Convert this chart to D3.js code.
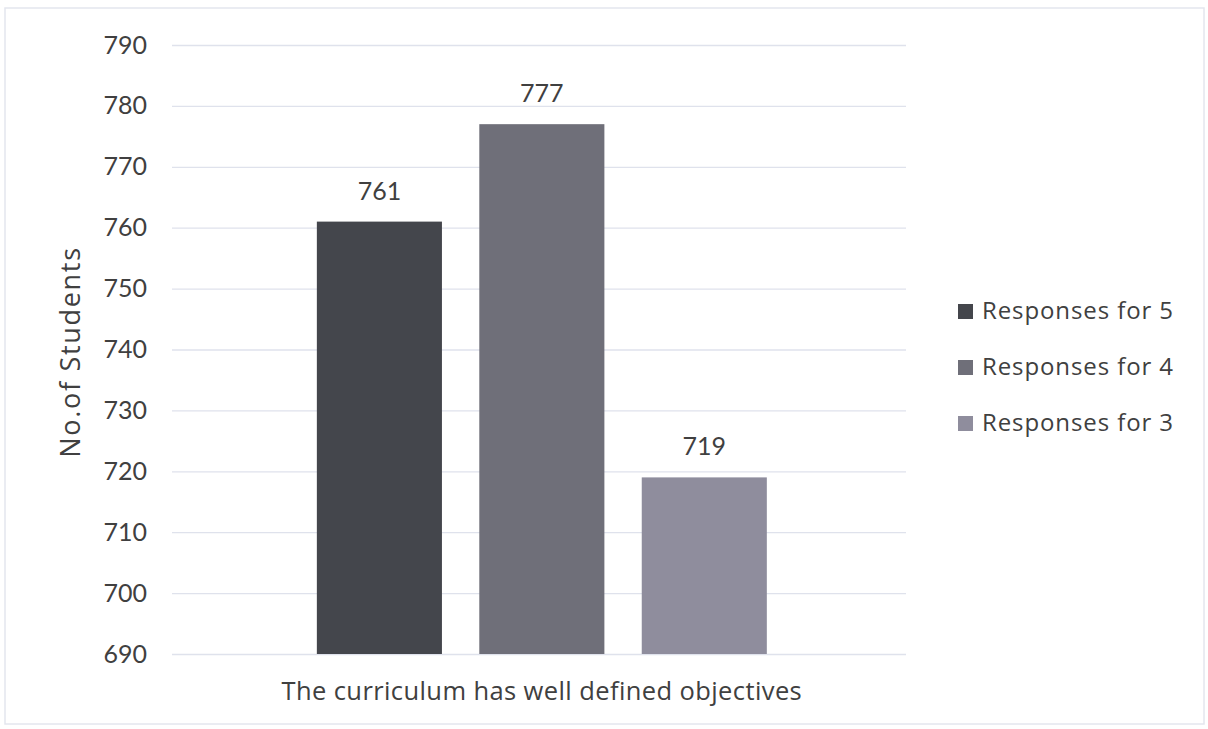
<!DOCTYPE html>
<html><head><meta charset="utf-8">
<script src="https://cdn.jsdelivr.net/npm/d3@7"></script>
<style>body{margin:0;background:#fff;} text{font-family:Lato,"Open Sans",sans-serif;fill:#404040;}</style>
</head><body>
<svg id="c" width="1208" height="729"></svg>
<script>
const categories = ["The curriculum has well defined objectives"];
const seriesNames = ["Responses for 5", "Responses for 4", "Responses for 3"];
const values5 = [761];
const values4 = [777];
const values3 = [719];
const yTicks = [690, 700, 710, 720, 730, 740, 750, 760, 770, 780, 790];
const colors = ["#44464c", "#6f6f79", "#8f8d9d"];

(function(){
const seriesValues = [values5, values4, values3];
const svg = d3.select("#c");
svg.append("rect").attr("x",5).attr("y",8).attr("width",1199).attr("height",716)
  .attr("fill","none").attr("stroke","#e4e6ee").attr("stroke-width",1.5);

const pLeft = 172, pRight = 906, pTop = 45, pBottom = 654;
const y = d3.scaleLinear().domain([690, 790]).range([pBottom, pTop]);
const x0 = d3.scaleBand().domain(categories).range([pLeft, pRight]).paddingInner(0).paddingOuter(0.3156).align(0.51);
const x1 = d3.scaleBand().domain(seriesNames).range([0, x0.bandwidth()]).paddingInner(0.23).paddingOuter(0);

// gridlines
const grid = svg.append("g").attr("transform", `translate(${pLeft},0)`)
  .call(d3.axisLeft(y).tickValues(yTicks).tickSize(-(pRight-pLeft)).tickFormat(""));
grid.select(".domain").remove();
grid.selectAll("line").attr("stroke", "#dfe2ec").attr("stroke-width", 1.3);

// y tick labels
const yAxis = svg.append("g").attr("transform", `translate(${pLeft},0)`)
  .call(d3.axisLeft(y).tickValues(yTicks).tickSize(0).tickPadding(25));
yAxis.select(".domain").remove();
yAxis.selectAll("text").style("font-size","25px").style("fill","#404040").style("font-family","Lato, sans-serif");

// bars
categories.forEach((cat, ci) => {
  seriesNames.forEach((s, si) => {
    const v = seriesValues[si][ci];
    const bx = x0(cat) + x1(s);
    svg.append("rect").attr("x", bx).attr("y", y(v))
      .attr("width", x1.bandwidth()).attr("height", y(690) - y(v))
      .attr("fill", colors[si]);
    svg.append("text").attr("x", bx + x1.bandwidth()/2).attr("y", y(v) - 22)
      .attr("text-anchor","middle").style("font-size","25px").text(v);
  });
  svg.append("text").attr("x", x0(cat) + x0.bandwidth()/2).attr("y", 700)
    .attr("text-anchor","middle").style("font-family","'Open Sans', sans-serif")
    .style("font-size","25.5px").style("letter-spacing","0.4px").text(cat);
});

// y title
svg.append("text").attr("transform","translate(80,352) rotate(-90)")
  .attr("text-anchor","middle").style("font-family","'Open Sans', sans-serif")
  .style("font-size","27px").style("letter-spacing","1.7px").text("No.of Students");

// legend
const legendY = [311, 367, 423];
seriesNames.forEach((s, i) => {
  svg.append("rect").attr("x", 958).attr("y", legendY[i]-7).attr("width", 15).attr("height", 15).attr("fill", colors[i]);
  svg.append("text").attr("x", 982).attr("y", legendY[i]+8).style("font-family","'Open Sans', sans-serif")
    .style("font-size","24px").style("letter-spacing","0.9px").text(s);
});
})();
</script>
</body></html>
